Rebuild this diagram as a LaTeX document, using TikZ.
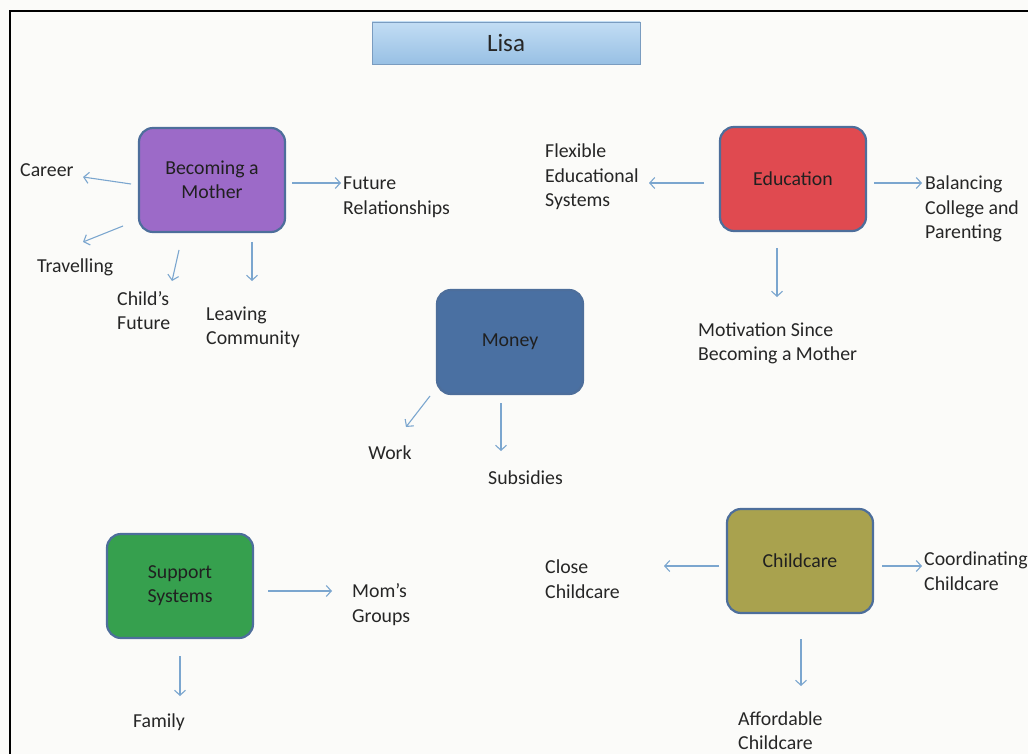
\documentclass[tikz,border=0pt]{standalone}
\usepackage{fontspec}
\setmainfont{Carlito}
\usetikzlibrary{arrows.meta}
\definecolor{bgc}{HTML}{FBFBF9}
\definecolor{bordc}{HTML}{4D6E9B}
\definecolor{arrc}{HTML}{7BA6CF}
\definecolor{purp}{HTML}{9C6AC8}
\definecolor{edred}{HTML}{E04A50}
\definecolor{monb}{HTML}{4A70A2}
\definecolor{supg}{HTML}{36A04E}
\definecolor{olive}{HTML}{A9A24E}
\definecolor{lisatop}{HTML}{C2DDF4}
\definecolor{lisabot}{HTML}{98C0E4}
\definecolor{lisab}{HTML}{7A9CC0}
\definecolor{txt}{HTML}{262626}
\tikzset{
  hub/.style={rounded corners=14pt, draw=bordc, line width=2.2pt, minimum width=146pt, minimum height=104pt,
    align=center, text=txt!85!black, font=\fontsize{19.8}{24}\selectfont, inner sep=0pt},
  lbl/.style={align=left, text=txt, font=\fontsize{19.8}{24.5}\selectfont, inner sep=0pt},
  con/.style={draw=arrc, line width=1.1pt, -{Straight Barb[length=5pt,width=11pt,line width=1.1pt]}},
}
\begin{document}
\begin{tikzpicture}[x=1pt,y=-1pt]
\useasboundingbox (0,0) rectangle (1028,754);
\fill[bgc] (0,0) rectangle (1028,754);
\draw[black, line width=2.5pt] (1028,11) -- (10,11) -- (10,754);

% title
\node[shade, top color=lisatop, bottom color=lisabot, draw=lisab, line width=0.8pt,
  minimum width=268pt, minimum height=42pt, inner sep=0pt,
  font=\fontsize{25}{30}\selectfont, text=txt] (lisa) at (506,43) {Lisa};

% hubs
\node[hub, fill=purp] (mother) at (212,180) {Becoming a\\Mother};
\node[hub, fill=edred] (edu) at (793,179) {Education};
\node[hub, fill=monb] (money) at (510,342) {Money};
\node[hub, fill=supg] (support) at (180,586) {Support\\Systems};
\node[hub, fill=olive] (child) at (800,561) {Childcare};

% labels
\node[lbl, anchor=west] (career) at (20,170) {Career};
\node[lbl, anchor=west] (travel) at (37,267) {Travelling};
\node[lbl, anchor=west] (childf) at (117,310.5) {Child’s\\Future};
\node[lbl, anchor=west] (leaving) at (206,327.5) {Leaving\\Community};
\node[lbl, anchor=west] (futrel) at (343,197) {Future\\Relationships};
\node[lbl, anchor=west] (flex) at (545,177) {Flexible\\Educational\\Systems};
\node[lbl, anchor=west] (bal) at (925,209) {Balancing\\College and\\Parenting};
\node[lbl, anchor=west] (motiv) at (698,343.5) {Motivation Since\\Becoming a Mother};
\node[lbl] (work) at (390,453) {Work};
\node[lbl, anchor=west] (subs) at (488,478) {Subsidies};
\node[lbl, anchor=west] (moms) at (352,604.5) {Mom’s\\Groups};
\node[lbl] (family) at (159,722) {Family};
\node[lbl, anchor=west] (close) at (545,579) {Close\\Childcare};
\node[lbl, anchor=west] (coord) at (924,571) {Coordinating\\Childcare};
\node[lbl, anchor=west] (afford) at (738,730.5) {Affordable\\Childcare};

% arrow ends
\coordinate (a1s) at (131,184); \coordinate (a1e) at (83,177);
\coordinate (a2s) at (123,226); \coordinate (a2e) at (83,242);
\coordinate (a3s) at (179,250); \coordinate (a3e) at (172,281);
\coordinate (a4s) at (252,242); \coordinate (a4e) at (252,281);
\coordinate (a5s) at (292,183); \coordinate (a5e) at (341,183);
\coordinate (b1s) at (704,183); \coordinate (b1e) at (649,183);
\coordinate (b2s) at (874,183); \coordinate (b2e) at (922,183);
\coordinate (b3s) at (777,248); \coordinate (b3e) at (777,297);
\coordinate (c1s) at (430,396); \coordinate (c1e) at (406,427);
\coordinate (c2s) at (501,403); \coordinate (c2e) at (501,451);
\coordinate (d1s) at (268,591); \coordinate (d1e) at (332,591);
\coordinate (d2s) at (180,656); \coordinate (d2e) at (180,696);
\coordinate (e1s) at (719,566); \coordinate (e1e) at (664,566);
\coordinate (e2s) at (882,566); \coordinate (e2e) at (922,566);
\coordinate (e3s) at (801,639); \coordinate (e3e) at (801,686);

\foreach \p in {a1,a2,a3,a4,a5,b1,b2,b3,c1,c2,d1,d2,e1,e2,e3}
  \draw[con] (\p s) -- (\p e);
\end{tikzpicture}
\end{document}
